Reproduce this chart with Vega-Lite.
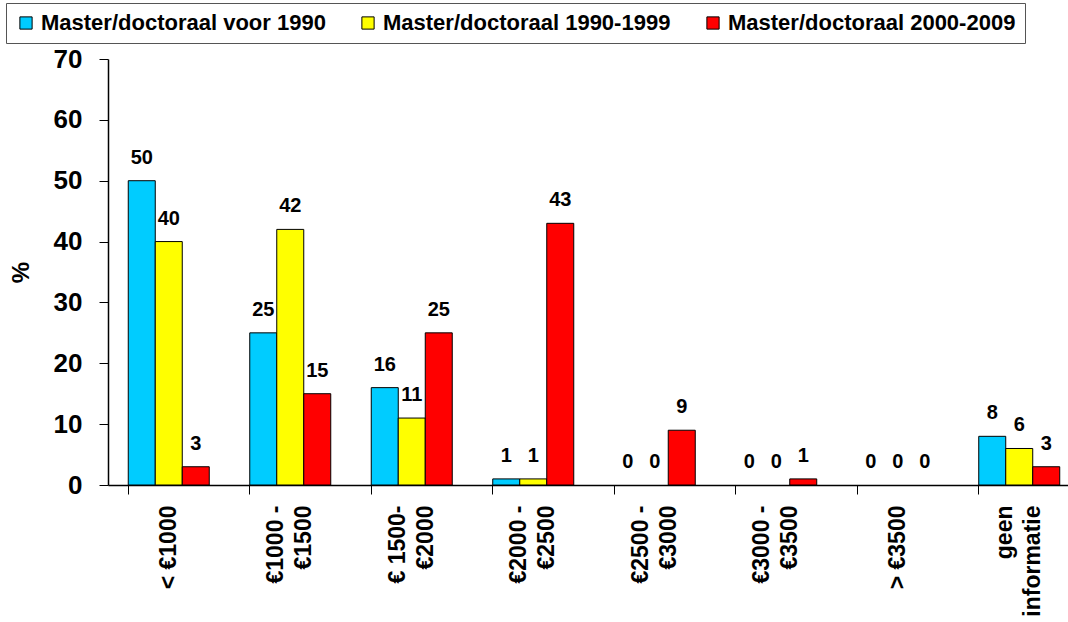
{
  "$schema": "https://vega.github.io/schema/vega-lite/v6.json",
  "autosize": {"type": "none"},
  "padding": {"left": 108, "top": 59, "right": 0, "bottom": 137},
  "width": 960,
  "height": 426,
  "background": "white",
  "data": {
    "values": [
      {"cat": "< €1000", "series": "Master/doctoraal voor 1990", "pct": 50},
      {"cat": "< €1000", "series": "Master/doctoraal 1990-1999", "pct": 40},
      {"cat": "< €1000", "series": "Master/doctoraal 2000-2009", "pct": 3},
      {"cat": "€1000 -|€1500", "series": "Master/doctoraal voor 1990", "pct": 25},
      {"cat": "€1000 -|€1500", "series": "Master/doctoraal 1990-1999", "pct": 42},
      {"cat": "€1000 -|€1500", "series": "Master/doctoraal 2000-2009", "pct": 15},
      {"cat": "€ 1500-|€2000", "series": "Master/doctoraal voor 1990", "pct": 16},
      {"cat": "€ 1500-|€2000", "series": "Master/doctoraal 1990-1999", "pct": 11},
      {"cat": "€ 1500-|€2000", "series": "Master/doctoraal 2000-2009", "pct": 25},
      {"cat": "€2000 -|€2500", "series": "Master/doctoraal voor 1990", "pct": 1},
      {"cat": "€2000 -|€2500", "series": "Master/doctoraal 1990-1999", "pct": 1},
      {"cat": "€2000 -|€2500", "series": "Master/doctoraal 2000-2009", "pct": 43},
      {"cat": "€2500 -|€3000", "series": "Master/doctoraal voor 1990", "pct": 0},
      {"cat": "€2500 -|€3000", "series": "Master/doctoraal 1990-1999", "pct": 0},
      {"cat": "€2500 -|€3000", "series": "Master/doctoraal 2000-2009", "pct": 9},
      {"cat": "€3000 -|€3500", "series": "Master/doctoraal voor 1990", "pct": 0},
      {"cat": "€3000 -|€3500", "series": "Master/doctoraal 1990-1999", "pct": 0},
      {"cat": "€3000 -|€3500", "series": "Master/doctoraal 2000-2009", "pct": 1},
      {"cat": "> €3500", "series": "Master/doctoraal voor 1990", "pct": 0},
      {"cat": "> €3500", "series": "Master/doctoraal 1990-1999", "pct": 0},
      {"cat": "> €3500", "series": "Master/doctoraal 2000-2009", "pct": 0},
      {"cat": "geen|informatie", "series": "Master/doctoraal voor 1990", "pct": 8},
      {"cat": "geen|informatie", "series": "Master/doctoraal 1990-1999", "pct": 6},
      {"cat": "geen|informatie", "series": "Master/doctoraal 2000-2009", "pct": 3}
    ]
  },
  "encoding": {
    "x": {
      "field": "cat",
      "type": "nominal",
      "sort": ["< €1000", "€1000 -|€1500", "€ 1500-|€2000", "€2000 -|€2500", "€2500 -|€3000", "€3000 -|€3500", "> €3500", "geen|informatie"],
      "scale": {
        "domain": ["< €1000", "€1000 -|€1500", "€ 1500-|€2000", "€2000 -|€2500", "€2500 -|€3000", "€3000 -|€3500", "> €3500", "geen|informatie"],
        "paddingInner": 0.3333, "paddingOuter": 0.1667, "range": [0, 972]
      },
      "axis": {
        "title": null,
        "labelAngle": -90,
        "labelAlign": "right",
        "labelBaseline": "middle",
        "labelExpr": "split(datum.label, '|')",
        "labelOffset": {"condition": {"test": "indexof(datum.value, '|') >= 0", "value": -14}, "value": 0},
        "labelFont": "Liberation Sans",
        "labelFontWeight": "bold",
        "labelFontSize": 23,
        "labelLineHeight": 28,
        "labelColor": "#000",
        "labelPadding": 11,
        "labelOverlap": false,
        "labelLimit": 300,
        "bandPosition": 0,
        "tickSize": 9,
        "tickColor": "#000",
        "tickWidth": 1,
        "domainColor": "#000",
        "domainWidth": 1.5
      }
    },
    "xOffset": {
      "field": "series",
      "type": "nominal",
      "sort": ["Master/doctoraal voor 1990", "Master/doctoraal 1990-1999", "Master/doctoraal 2000-2009"],
      "scale": {
        "domain": ["Master/doctoraal voor 1990", "Master/doctoraal 1990-1999", "Master/doctoraal 2000-2009"],
        "paddingInner": 0, "paddingOuter": 0
      }
    },
    "y": {
      "field": "pct",
      "type": "quantitative",
      "scale": {"domain": [0, 70], "nice": false},
      "axis": {
        "title": "%",
        "titleFont": "Liberation Sans",
        "titleFontSize": 24,
        "titleFontWeight": "bold",
        "titleColor": "#000",
        "titlePadding": 20,
        "values": [0, 10, 20, 30, 40, 50, 60, 70],
        "labelFont": "Liberation Sans",
        "labelFontWeight": "bold",
        "labelFontSize": 26,
        "labelColor": "#000",
        "labelPadding": 17,
        "tickSize": 9,
        "tickColor": "#000",
        "domainColor": "#000",
        "domainWidth": 1.5,
        "grid": false
      }
    }
  },
  "layer": [
    {
      "transform": [{"filter": "datum.pct > 0"}],
      "mark": {"type": "bar", "stroke": "#000", "strokeWidth": 1},
      "encoding": {
        "color": {
          "field": "series",
          "type": "nominal",
          "scale": {
            "domain": ["Master/doctoraal voor 1990", "Master/doctoraal 1990-1999", "Master/doctoraal 2000-2009"],
            "range": ["#00CCFF", "#FFFF00", "#FF0000"]
          },
          "legend": {
            "title": null,
            "orient": "none",
            "legendX": -102,
            "legendY": -56,
            "direction": "horizontal",
            "columns": 3,
            "columnPadding": 31,
            "padding": 9,
            "strokeColor": "#555",
            "fillColor": "#fff",
            "symbolType": "square",
            "symbolSize": 150,
            "symbolStrokeColor": "#000",
            "symbolStrokeWidth": 1,
            "symbolOpacity": 1,
            "labelFont": "Liberation Sans",
            "labelFontWeight": "bold",
            "labelFontSize": 22,
            "labelColor": "#000",
            "labelOffset": 4,
            "labelLimit": 400
          }
        }
      }
    },
    {
      "mark": {
        "type": "text",
        "font": "Liberation Sans",
        "fontWeight": "bold",
        "fontSize": 20,
        "baseline": "alphabetic",
        "dy": -17,
        "color": "#000"
      },
      "encoding": {
        "text": {"field": "pct", "type": "quantitative"}
      }
    }
  ],
  "config": {
    "view": {"stroke": null}
  }
}
